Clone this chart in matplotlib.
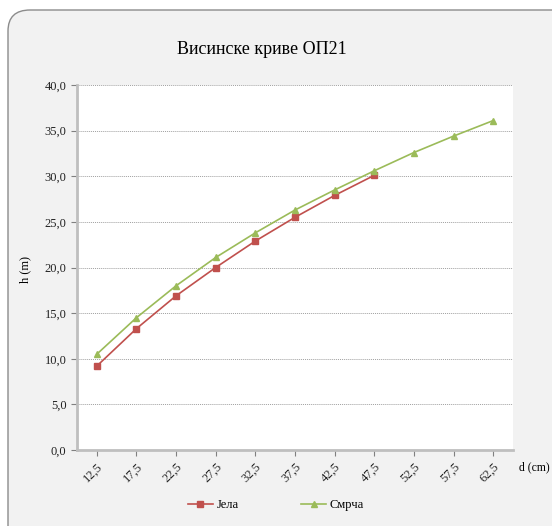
import matplotlib.pyplot as plt
from matplotlib.patches import FancyBboxPatch

plt.rcParams['font.family'] = ['Liberation Serif', 'DejaVu Serif']

# podaci
d_cm = ['12,5', '17,5', '22,5', '27,5', '32,5', '37,5', '42,5', '47,5', '52,5', '57,5', '62,5']
jela = [9.2, 13.3, 16.9, 20.0, 22.9, 25.5, 27.9, 30.1]
smrca = [10.5, 14.5, 18.0, 21.1, 23.8, 26.3, 28.5, 30.6, 32.6, 34.4, 36.1]

fig = plt.figure(figsize=(5.52, 5.26), dpi=100)
fig.patch.set_facecolor('white')

# pozadina sa zaobljenim uglovima
bg = FancyBboxPatch((8 / 552, -0.05), 1.2, 1 - 10 / 526 + 0.05,
                    boxstyle='round,pad=0,rounding_size=0.04',
                    transform=fig.transFigure, facecolor='#f2f2f2',
                    edgecolor='#8c8c8c', linewidth=1.0, zorder=-10)
fig.patches.append(bg)

ax = fig.add_axes([77 / 552, 1 - 450 / 526, (513 - 77) / 552, (450 - 85) / 526])
ax.set_facecolor('white')

x_all = list(range(len(d_cm)))
ax.plot(x_all[:len(jela)], jela, color='#c0504d', marker='s', markersize=4.5,
        linewidth=1.2, label='Јела')
ax.plot(x_all, smrca, color='#9bbb59', marker='^', markersize=4.5,
        linewidth=1.2, label='Смрча')

ax.set_xlim(-0.5, len(d_cm) - 0.5)
ax.set_ylim(0, 40)
ax.set_yticks(range(0, 41, 5))
ax.set_yticklabels([f'{v:.1f}'.replace('.', ',') for v in range(0, 41, 5)], fontsize=9)
ax.set_xticks(x_all)
ax.set_xticklabels(d_cm, fontsize=9, rotation=45, ha='right', rotation_mode='anchor')

ax.grid(axis='y', linestyle=(0, (1, 1)), color='#a0a0a0', linewidth=0.7)
ax.set_axisbelow(True)
for s in ['top', 'right']:
    ax.spines[s].set_visible(False)
for s in ['left', 'bottom']:
    ax.spines[s].set_color('#bfbfbf')
    ax.spines[s].set_linewidth(2)
ax.tick_params(axis='both', colors='#808080', labelcolor='#222222', length=4, width=0.8)

fig.text(0.475, 1 - 50 / 526, 'Висинске криве ОП21', ha='center', va='center', fontsize=13)
fig.text(0.045, 0.487, 'h (m)', rotation=90, ha='center', va='center', fontsize=9)
fig.text(519 / 552, 1 - 467 / 526, 'd (cm)', ha='left', va='center', fontsize=8.5)

fig.legend(loc='center', bbox_to_anchor=(0.5, 1 - 505 / 526), ncol=2, frameon=False,
           fontsize=9, columnspacing=5, handlelength=2.0, handletextpad=0.3)

fig.savefig('out.png', dpi=100)
